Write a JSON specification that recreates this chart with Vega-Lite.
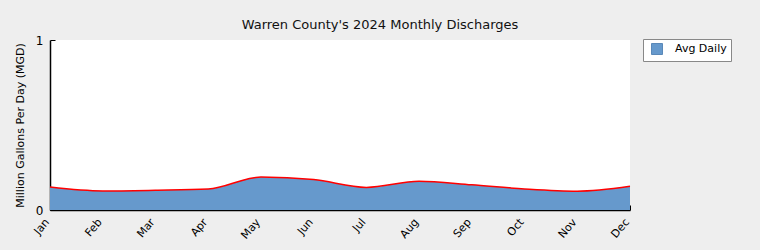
{
  "$schema": "https://vega.github.io/schema/vega-lite/v6.json",
  "width": 580,
  "height": 170,
  "autosize": {"type": "none"},
  "padding": {"left": 50, "top": 40, "right": 130, "bottom": 40},
  "background": "#eeeeee",
  "title": {
    "text": "Warren County's 2024 Monthly Discharges",
    "fontSize": 13,
    "font": "DejaVu Sans",
    "fontWeight": "normal",
    "color": "#111111",
    "anchor": "middle",
    "dx": 40,
    "offset": -8,
    "baseline": "alphabetic"
  },
  "data": {
    "values": [
      {"month": "Jan", "mgd": 0.135, "series": "Avg Daily"},
      {"month": "Feb", "mgd": 0.112, "series": "Avg Daily"},
      {"month": "Mar", "mgd": 0.116, "series": "Avg Daily"},
      {"month": "Apr", "mgd": 0.123, "series": "Avg Daily"},
      {"month": "May", "mgd": 0.194, "series": "Avg Daily"},
      {"month": "Jun", "mgd": 0.179, "series": "Avg Daily"},
      {"month": "Jul", "mgd": 0.133, "series": "Avg Daily"},
      {"month": "Aug", "mgd": 0.169, "series": "Avg Daily"},
      {"month": "Sep", "mgd": 0.148, "series": "Avg Daily"},
      {"month": "Oct", "mgd": 0.124, "series": "Avg Daily"},
      {"month": "Nov", "mgd": 0.111, "series": "Avg Daily"},
      {"month": "Dec", "mgd": 0.140, "series": "Avg Daily"}
    ]
  },
  "encoding": {
    "x": {
      "field": "month",
      "type": "ordinal",
      "sort": null,
      "scale": {"type": "point", "padding": 0},
      "axis": {
        "title": null,
        "labelAngle": -50,
        "labelAlign": "right",
        "labelBaseline": "middle",
        "labelFontSize": 11,
        "labelColor": "#000000",
        "labelPadding": 15,
        "labelOffset": -3,
        "tickSize": -5,
        "tickColor": "#000000",
        "domainColor": "#000000",
        "domainWidth": 1.5,
        "grid": false
      }
    },
    "y": {
      "field": "mgd",
      "type": "quantitative",
      "scale": {"domain": [0, 1], "nice": false},
      "axis": {
        "title": "Million Gallons Per Day (MGD)",
        "titleFontSize": 11,
        "titleFontWeight": "normal",
        "titleColor": "#000000",
        "titlePadding": 10,
        "values": [0, 1],
        "format": "d",
        "labelFontSize": 12,
        "labelColor": "#000000",
        "labelPadding": 12,
        "tickSize": -5,
        "tickColor": "#000000",
        "domainColor": "#000000",
        "domainWidth": 1.5,
        "grid": false
      }
    }
  },
  "layer": [
    {
      "mark": {"type": "area", "interpolate": "monotone"},
      "encoding": {
        "color": {
          "field": "series",
          "type": "nominal",
          "scale": {"range": ["#6699cc"]},
          "legend": {
            "title": null,
            "orient": "none",
            "legendX": 593,
            "legendY": -1,
            "fillColor": "#ffffff",
            "strokeColor": "#888888",
            "padding": 4,
            "symbolType": "square",
            "symbolSize": 121,
            "symbolOpacity": 1,
            "symbolStrokeColor": "#5a88b8",
            "symbolStrokeWidth": 1,
            "symbolOffset": 4,
            "labelFontSize": 11,
            "labelColor": "#000000",
            "labelOffset": 12
          }
        }
      }
    },
    {
      "mark": {"type": "line", "interpolate": "monotone", "color": "#ff0000", "strokeWidth": 1.5},
      "encoding": {}
    }
  ],
  "config": {
    "view": {"fill": "#ffffff", "stroke": null},
    "font": "DejaVu Sans"
  }
}
